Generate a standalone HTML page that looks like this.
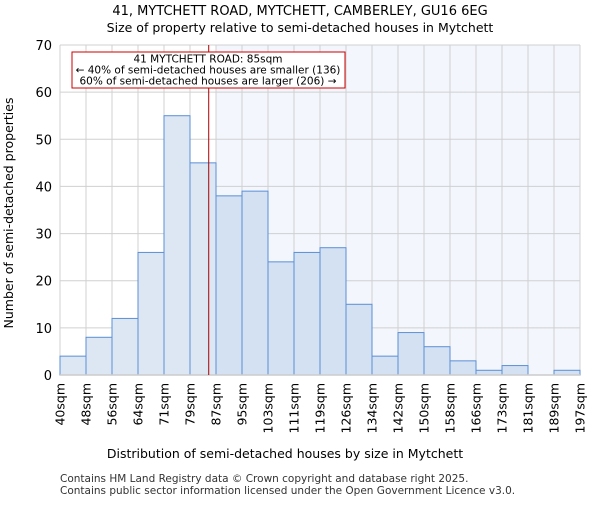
<!DOCTYPE html>
<html><head><meta charset="utf-8"><style>body{margin:0;background:#fff}svg{font-family:"DejaVu Sans","Liberation Sans",sans-serif}</style></head><body>
<svg id="c" width="600" height="500" xmlns="http://www.w3.org/2000/svg">
<text x="300" y="15" text-anchor="middle" font-size="13">41, MYTCHETT ROAD, MYTCHETT, CAMBERLEY, GU16 6EG</text>
<text x="300" y="32" text-anchor="middle" font-size="12.5">Size of property relative to semi-detached houses in Mytchett</text>
<g id="plot"></g>
<text x="285" y="458" text-anchor="middle" font-size="12.5">Distribution of semi-detached houses by size in Mytchett</text>
<text transform="translate(13,213) rotate(-90)" text-anchor="middle" font-size="12.5">Number of semi-detached properties</text>
<text x="60" y="482" font-size="10.5" fill="#333">Contains HM Land Registry data © Crown copyright and database right 2025.</text>
<text x="60" y="494" font-size="10.5" fill="#333">Contains public sector information licensed under the Open Government Licence v3.0.</text>
</svg>
<script>
const categories=["40sqm","48sqm","56sqm","64sqm","71sqm","79sqm","87sqm","95sqm","103sqm","111sqm","119sqm","126sqm","134sqm","142sqm","150sqm","158sqm","166sqm","173sqm","181sqm","189sqm","197sqm"];
const values=[4,8,12,26,55,45,38,39,24,26,27,15,4,9,6,3,1,2,0,1];
const yTicks=[0,10,20,30,40,50,60,70];
const markerPos=5.72;
const ns="http://www.w3.org/2000/svg";
const g=document.getElementById('plot');
const X0=60,X1=580,Y0=375,Y1=45,n=values.length;
const xs=i=>X0+(X1-X0)*i/n;
const ys=v=>Y0-(Y0-Y1)*v/70;
function mk(t,a,p){const e=document.createElementNS(ns,t);for(const k in a)e.setAttribute(k,a[k]);(p||g).appendChild(e);return e;}
const hl=Math.ceil(markerPos);
let e=mk('rect',{x:xs(hl),y:Y1,width:X1-xs(hl),height:Y0-Y1,fill:'#f3f6fd'});


yTicks.forEach(t=>{
 let l=mk('line',{x1:X0,x2:X1,y1:ys(t),y2:ys(t),stroke:'#d0d0d0','stroke-width':1});
 
 
 let tx=mk('text',{x:X0-8,y:ys(t)+5,'text-anchor':'end','font-size':13});
 tx.textContent=t;
 
 
});
categories.forEach((c,i)=>{
 let l=mk('line',{x1:xs(i),x2:xs(i),y1:Y1,y2:Y0,stroke:'#d0d0d0','stroke-width':1});
 
 
 let tx=mk('text',{transform:`translate(${xs(i)+4.5},${Y0+8}) rotate(-90)`,'text-anchor':'end','font-size':12.5});
 tx.textContent=c;
 
 
});
values.forEach((v,i)=>{
 let r=mk('rect',{x:xs(i),y:ys(v),width:xs(1)-xs(0),height:Y0-ys(v),fill:i>=hl?'#d4e1f3':'#dde7f4',stroke:'#5b8fd6','stroke-width':1});
 
 
});
let ax=mk('line',{x1:X0,x2:X1,y1:Y0,y2:Y0,stroke:'#ccc','stroke-width':1.5});


let m=mk('line',{x1:xs(markerPos),x2:xs(markerPos),y1:Y1,y2:Y0,stroke:'#a00','stroke-width':1});


let bx=mk('rect',{x:72,y:52,width:273,height:36,fill:'#fff',stroke:'#c00','stroke-width':1});


["41 MYTCHETT ROAD: 85sqm","← 40% of semi-detached houses are smaller (136)","60% of semi-detached houses are larger (206) →"].forEach((s,k)=>{
 let t=mk('text',{x:208,y:62.5+k*11,'text-anchor':'middle','font-size':10.5});
 t.textContent=s;
 
 
});
</script>
</body></html>
